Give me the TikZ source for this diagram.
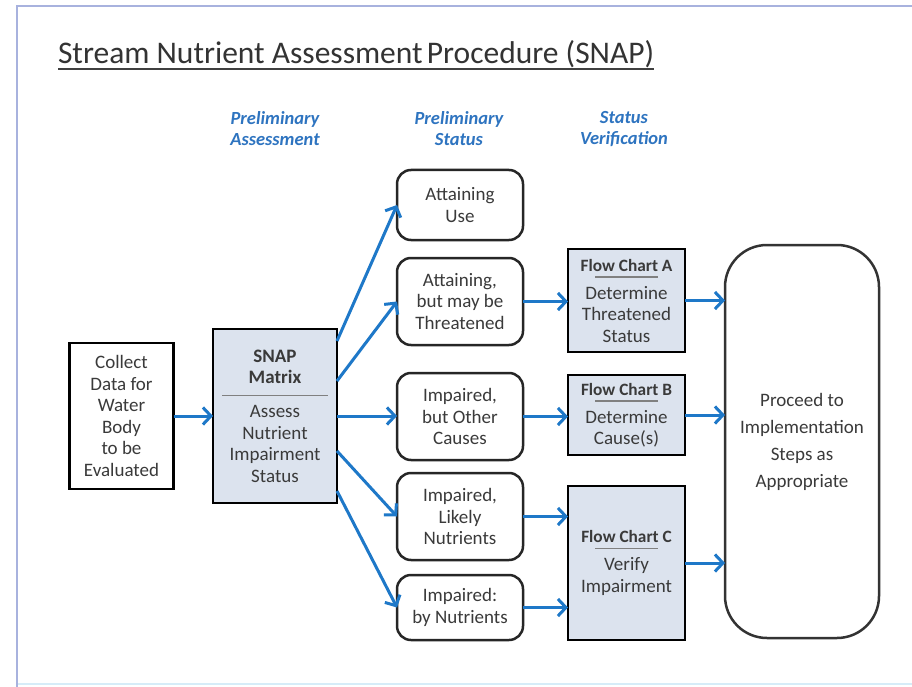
\documentclass[tikz,border=0pt]{standalone}
\usepackage{fontspec}
\setmainfont{Carlito}
\usetikzlibrary{arrows.meta,calc}

\definecolor{flowblue}{RGB}{30,120,200}
\definecolor{headblue}{RGB}{46,116,192}
\definecolor{boxfill}{RGB}{220,227,238}
\definecolor{inktext}{RGB}{58,58,58}
\definecolor{framec}{RGB}{168,178,222}
\definecolor{framelow}{RGB}{214,236,248}

% thin grey separator inside the tool boxes
\newcommand\seprule[1]{\textcolor{gray}{\rule[3pt]{#1pt}{1.3pt}}}

\begin{document}
\begin{tikzpicture}[x=1pt,y=-1pt,
  every node/.style={inner sep=0pt, outer sep=0pt, align=center, text=inktext,
    font=\fontsize{19}{21.5}\selectfont},
  squarebox/.style={draw=black, line width=2.8pt},
  toolbox/.style={draw=black, line width=2.8pt, fill=boxfill},
  statusbox/.style={draw=black!85, line width=2.5pt, rounded corners=14pt},
  finalbox/.style={draw=black!80, line width=2.5pt, rounded corners=42pt,
    font=\fontsize{19}{27}\selectfont},
  colhead/.style={text=headblue, font=\fontsize{18.5}{21}\selectfont\bfseries\itshape},
  flow/.style={draw=flowblue, line width=3pt, line join=round,
    -{Straight Barb[length=8pt,width=17pt,line width=3pt]}}
]
% canvas and slide frame
\useasboundingbox (0,0) rectangle (912,687);
\fill[white] (0,0) rectangle (912,687);
\draw[framelow, line width=2.5pt] (17,684) -- (912,684);
\draw[framec, line width=2.5pt] (17,687) -- (17,6) -- (912,6);

% title
\node[anchor=base west, text=black!80, font=\fontsize{31.5}{36}\selectfont] (title) at (58,64)
  {Stream Nutrient Assessment\kern-3pt\ Procedure (SNAP)};
\draw[black!75, line width=1.8pt] ([yshift=-5pt]title.base west) -- ([yshift=-5pt]title.base east);

% column headings
\node[colhead] (h1) at (275,129) {Preliminary\\Assessment};
\node[colhead] (h2) at (459,129) {Preliminary\\Status};
\node[colhead] (h3) at (624,129) {Status\\Verification};

% first two stages
\node[squarebox, minimum width=104pt, minimum height=146pt] (collect) at (121.5,416)
  {Collect\\Data for\\Water\\Body\\to be\\Evaluated};
\node[toolbox, minimum width=124pt, minimum height=174pt] (snap) at (275,416)
  {\textbf{SNAP}\\\textbf{Matrix}\\[-6pt]\seprule{106}\\[-3pt]Assess\\Nutrient\\Impairment\\Status};

% preliminary status outcomes
\node[statusbox, minimum width=126pt, minimum height=70pt] (use) at (460,205) {Attaining\\Use};
\node[statusbox, minimum width=126pt, minimum height=87pt] (thr) at (460,301.5) {Attaining,\\but may be\\Threatened};
\node[statusbox, minimum width=126pt, minimum height=87pt] (oth) at (460,416.5) {Impaired,\\but Other\\Causes};
\node[statusbox, minimum width=126pt, minimum height=87pt] (lik) at (460,516.5) {Impaired,\\Likely\\Nutrients};
\node[statusbox, minimum width=126pt, minimum height=65pt] (nut) at (460,607.5) {Impaired:\\by Nutrients};

% verification flow charts
\node[toolbox, minimum width=117pt, minimum height=103pt] (fca) at (626.5,300.5)
  {\textbf{\fontsize{17.3}{21.5}\selectfont Flow Chart A}\\[-12pt]\seprule{63}\\[-3pt]Determine\\Threatened\\Status};
\node[toolbox, minimum width=117pt, minimum height=80pt] (fcb) at (626.5,415)
  {\textbf{\fontsize{17.3}{21.5}\selectfont Flow Chart B}\\[-12pt]\seprule{63}\\[-3pt]Determine\\Cause(s)};
\node[toolbox, minimum width=117pt, minimum height=154pt] (fcc) at (626.5,563)
  {\textbf{\fontsize{17.3}{21.5}\selectfont Flow Chart C}\\[-12pt]\seprule{63}\\[-3pt]Verify\\Impairment};

% final step
\node[finalbox, minimum width=154pt, minimum height=393pt] (final) at (802,441.5)
  {Proceed to\\Implementation\\Steps as\\Appropriate};

% connectors
\draw[flow] (collect.east) -- (snap.west);
\draw[flow] ([yshift=75pt]snap.east) -- (use.west);
\draw[flow] ([yshift=35pt]snap.east) -- (thr.west);
\draw[flow] (snap.east) -- (snap.east -| oth.west);
\draw[flow] ([yshift=-35pt]snap.east) -- (lik.west);
\draw[flow] ([yshift=-75pt]snap.east) -- (nut.west);

\draw[flow] (thr.east) -- (thr.east -| fca.west);
\draw[flow] (oth.east) -- (oth.east -| fcb.west);
\draw[flow] (lik.east) -- (lik.east -| fcc.west);
\draw[flow] (nut.east) -- (nut.east -| fcc.west);

\draw[flow] (fca.east) -- (fca.east -| final.west);
\draw[flow] (fcb.east) -- (fcb.east -| final.west);
\draw[flow] (fcc.east) -- (fcc.east -| final.west);
\end{tikzpicture}
\end{document}
